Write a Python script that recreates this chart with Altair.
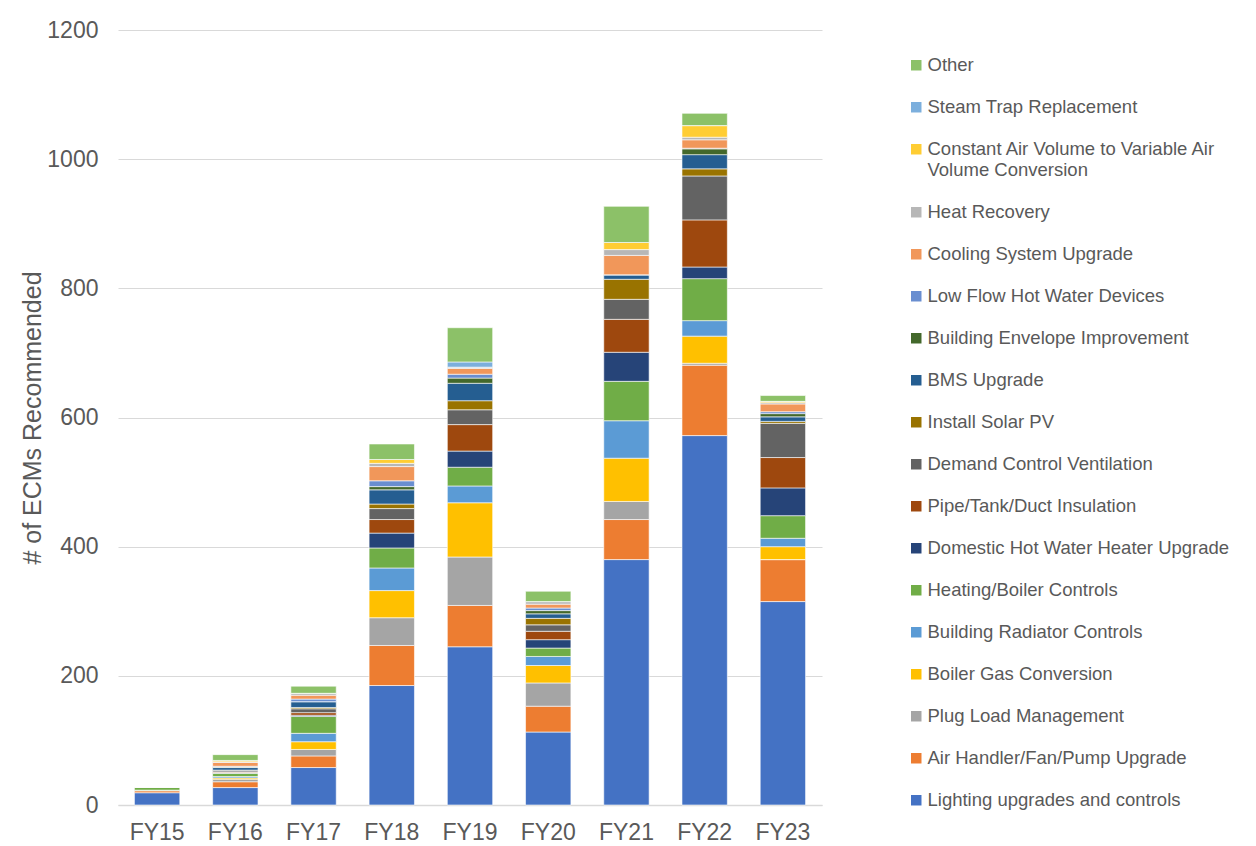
import altair as alt
import pandas as pd

years = ["FY15", "FY16", "FY17", "FY18", "FY19", "FY20", "FY21", "FY22", "FY23"]

# bottom -> top stacking order
categories = [
    "Lighting upgrades and controls",
    "Air Handler/Fan/Pump Upgrade",
    "Plug Load Management",
    "Boiler Gas Conversion",
    "Building Radiator Controls",
    "Heating/Boiler Controls",
    "Domestic Hot Water Heater Upgrade",
    "Pipe/Tank/Duct Insulation",
    "Demand Control Ventilation",
    "Install Solar PV",
    "BMS Upgrade",
    "Building Envelope Improvement",
    "Low Flow Hot Water Devices",
    "Cooling System Upgrade",
    "Heat Recovery",
    "Constant Air Volume to Variable Air Volume Conversion",
    "Steam Trap Replacement",
    "Other",
]

colors = [
    "#4472C4", "#ED7D31", "#A5A5A5", "#FFC000", "#5B9BD5", "#70AD47",
    "#264478", "#9E480E", "#636363", "#997300", "#255E91", "#43682B",
    "#698ED0", "#F1975A", "#B7B7B7", "#FFCD33", "#7CAFDD", "#8CC168",
]

lighting      = [19, 27, 58, 185, 245, 113, 380, 572, 315]
air_handler   = [3, 9, 18, 62, 64, 40, 62, 109, 65]
plug_load     = [1, 4, 10, 43, 75, 36, 28, 3, 0]
boiler_gas    = [0, 2, 12, 42, 84, 27, 67, 42, 20]
radiator      = [0, 2, 13, 35, 26, 14, 58, 24, 13]
heating_ctrl  = [5, 5, 26, 31, 29, 13, 61, 65, 35]
dhw_heater    = [0, 1, 2, 23, 25, 13, 45, 18, 43]
insulation    = [0, 1, 4, 21, 41, 13, 51, 73, 47]
dcv           = [0, 2, 6, 17, 23, 10, 31, 68, 53]
solar_pv      = [0, 1, 2, 7, 14, 10, 31, 11, 3]
bms           = [0, 4, 9, 22, 27, 7, 7, 22, 7]
envelope      = [0, 1, 0, 5, 8, 5, 0, 9, 5]
low_flow      = [0, 1, 4, 9, 6, 4, 0, 1, 3]
cooling       = [0, 6, 6, 22, 9, 6, 30, 13, 12]
heat_recovery = [0, 1, 3, 5, 2, 4, 9, 4, 2]
cav_vav       = [0, 2, 0, 6, 0, 0, 11, 18, 2]
steam_trap    = [0, 0, 0, 0, 8, 0, 0, 0, 0]
other         = [0, 9, 11, 24, 53, 16, 56, 19, 9]

series = [lighting, air_handler, plug_load, boiler_gas, radiator, heating_ctrl,
          dhw_heater, insulation, dcv, solar_pv, bms, envelope, low_flow,
          cooling, heat_recovery, cav_vav, steam_trap, other]

rows = []
for idx, (cat, vals) in enumerate(zip(categories, series)):
    for yr, v in zip(years, vals):
        rows.append({"year": yr, "category": cat, "value": v, "idx": idx})
df = pd.DataFrame(rows)

font = "Liberation Sans"
txt = "#595959"

long_label = "Constant Air Volume to Variable Air Volume Conversion"

chart = alt.Chart(df).mark_bar(stroke="white", strokeWidth=0.6).encode(
    x=alt.X("year:N", sort=years, title=None,
            scale=alt.Scale(paddingInner=0.42, paddingOuter=0.21),
            axis=alt.Axis(labelAngle=0, labelFontSize=23, labelFont=font,
                          labelColor=txt, ticks=False, domainColor="#D9D9D9",
                          domainWidth=1.5, labelPadding=16, grid=False)),
    y=alt.Y("value:Q", stack="zero",
            title="# of ECMs Recommended",
            scale=alt.Scale(domain=[0, 1200], nice=False),
            axis=alt.Axis(values=[0, 200, 400, 600, 800, 1000, 1200],
                          format="d",
                          labelFontSize=23, labelFont=font, labelColor=txt,
                          ticks=False, domain=False, gridColor="#D9D9D9",
                          gridWidth=1.2, labelPadding=20,
                          titleFontSize=25, titleFont=font,
                          titleFontWeight="normal", titleColor=txt,
                          titlePadding=1)),
    color=alt.Color("category:N",
                    scale=alt.Scale(domain=categories[::-1], range=colors[::-1]),
                    legend=alt.Legend(
                        title=None, orient="none", legendX=789, legendY=26,
                        symbolType="square", symbolSize=110, symbolStrokeWidth=0,
                        labelFontSize=18.5, labelFont=font, labelColor=txt,
                        labelLimit=440, labelOffset=2, rowPadding=23,
                        labelExpr=f"datum.label == '{long_label}' ? ['Constant Air Volume to Variable Air', 'Volume Conversion'] : datum.label")),
    order=alt.Order("idx:Q", sort="ascending"),
).properties(
    width=704, height=775,
    padding={"left": 12, "top": 11, "right": 5, "bottom": 5},
    background="white",
).configure_view(strokeWidth=0, stroke="transparent")

chart.save("out.html", embed_options={"renderer": "svg", "actions": False})
